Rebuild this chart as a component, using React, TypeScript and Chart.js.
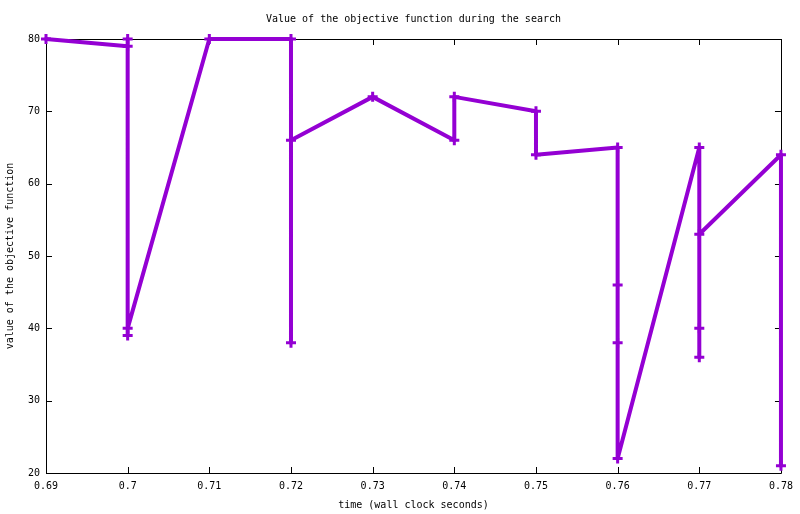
import React, { useEffect, useRef } from "react";
import { Chart, registerables } from "chart.js";

Chart.register(...registerables);

const times = [0.69, 0.7, 0.7, 0.7, 0.7, 0.71, 0.72, 0.72, 0.72, 0.73, 0.74, 0.74, 0.75, 0.75, 0.76, 0.76, 0.76, 0.76, 0.77, 0.77, 0.77, 0.77, 0.78, 0.78];
const values = [80, 79, 80, 39, 40, 80, 80, 38, 66, 72, 66, 72, 70, 64, 65, 46, 38, 22, 65, 40, 36, 53, 64, 21];

const titleText = "Value of the objective function during the search";
const xLabel = "time (wall clock seconds)";
const yLabel = "value of the objective function";

const FONT = "10px 'DejaVu Sans Mono', monospace";
const COLOR = "#9400d3";

const framePlugin = {
  id: "gnuplotFrame",
  beforeDatasetsDraw(chart: any) {
    const { ctx, chartArea: a, scales } = chart;
    ctx.save();
    ctx.strokeStyle = "#000";
    ctx.lineWidth = 1;
    ctx.beginPath();
    ctx.rect(Math.round(a.left) + 0.5, Math.round(a.top) + 0.5, Math.round(a.right - a.left), Math.round(a.bottom - a.top));
    ctx.stroke();
    const tl = 6;
    ctx.beginPath();
    scales.x.ticks.forEach((t: any) => {
      const px = Math.round(scales.x.getPixelForValue(t.value)) + 0.5;
      ctx.moveTo(px, a.bottom);
      ctx.lineTo(px, a.bottom - tl);
      ctx.moveTo(px, a.top);
      ctx.lineTo(px, a.top + tl);
    });
    scales.y.ticks.forEach((t: any) => {
      const py = Math.round(scales.y.getPixelForValue(t.value)) + 0.5;
      ctx.moveTo(a.left, py);
      ctx.lineTo(a.left + tl, py);
      ctx.moveTo(a.right, py);
      ctx.lineTo(a.right - tl, py);
    });
    ctx.stroke();
    ctx.restore();
  },
  afterDraw(chart: any) {
    const { ctx, chartArea: a } = chart;
    const cx = (a.left + a.right) / 2;
    ctx.save();
    ctx.fillStyle = "#000";
    ctx.font = FONT;
    ctx.textAlign = "center";
    ctx.textBaseline = "middle";
    ctx.fillText(titleText, cx, 19);
    ctx.fillText(xLabel, cx, 505);
    ctx.translate(10, (a.top + a.bottom) / 2);
    ctx.rotate(-Math.PI / 2);
    ctx.fillText(yLabel, 0, 0);
    ctx.restore();
  },
};

export default function App() {
  const ref = useRef<HTMLCanvasElement>(null);
  useEffect(() => {
    if (!ref.current) return;
    const points = times.map((t, i) => ({ x: t, y: values[i] }));
    const chart = new Chart(ref.current, {
      type: "line",
      data: {
        datasets: [
          {
            data: points,
            borderColor: COLOR,
            backgroundColor: COLOR,
            borderWidth: 4,
            borderJoinStyle: "round",
            borderCapStyle: "round",
            tension: 0,
            pointStyle: "cross",
            pointRadius: 5,
            pointBorderWidth: 3,
            pointBorderColor: COLOR,
            pointHoverRadius: 5,
            clip: false as any,
          },
        ],
      },
      options: {
        responsive: false,
        animation: false,
        devicePixelRatio: 1,
        layout: { padding: { top: 39, right: 18, left: 0, bottom: 0 } },
        plugins: { legend: { display: false }, title: { display: false }, tooltip: { enabled: false } },
        scales: {
          x: {
            type: "linear",
            min: 0.69,
            max: 0.78,
            afterFit: (s: any) => {
              s.height = 41;
            },
            grid: { display: false, drawTicks: false },
            border: { display: false },
            ticks: {
              stepSize: 0.01,
              padding: 7,
              color: "#000",
              font: { family: "'DejaVu Sans Mono', monospace", size: 10 },
              maxRotation: 0,
              autoSkip: false,
              callback: (v: any) => String(Number(Number(v).toFixed(2))),
            },
          },
          y: {
            type: "linear",
            min: 20,
            max: 80,
            afterFit: (s: any) => {
              s.width = 46;
            },
            grid: { display: false, drawTicks: false },
            border: { display: false },
            ticks: {
              stepSize: 10,
              padding: 6,
              color: "#000",
              font: { family: "'DejaVu Sans Mono', monospace", size: 10 },
            },
          },
        },
      },
      plugins: [framePlugin],
    });
    return () => chart.destroy();
  }, []);
  return (
    <div style={{ position: "fixed", left: 0, top: 0, width: 800, height: 514, background: "#fff" }}>
      <canvas ref={ref} width={800} height={514} />
    </div>
  );
}
